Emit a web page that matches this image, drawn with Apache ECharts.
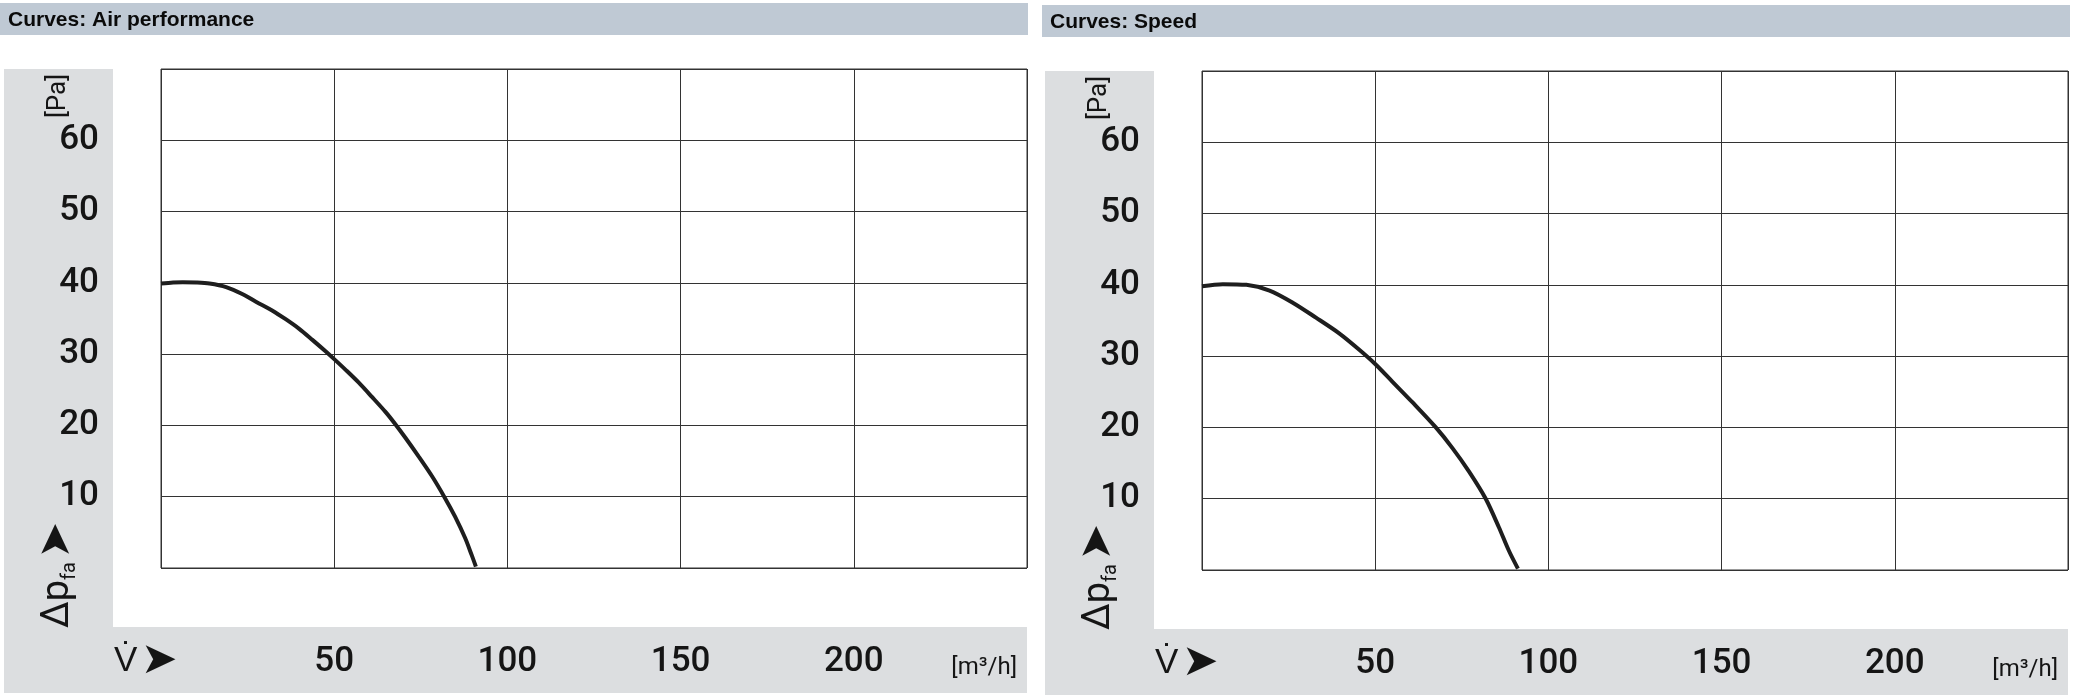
<!DOCTYPE html>
<html><head><meta charset="utf-8">
<script src="https://cdn.jsdelivr.net/npm/echarts@6/dist/echarts.min.js"></script>
<style>html,body{margin:0;padding:0;background:#fff}#c{width:2074px;height:696px}</style>
</head><body><div id="c"></div>
<script>
// ---- data ----
const chartTitles = ['Curves: Air performance', 'Curves: Speed'];
const xTickLabels = [50, 100, 150, 200];
const yTickLabels = [10, 20, 30, 40, 50, 60];
const xUnit = '[m\u00b3/h]';
const yUnit = '[Pa]';
const xName = 'V\u0307';
const yName = '\u0394p';
const ySub = 'fa';
const airFlow     = [0, 3.5, 6.3, 10.2, 14.0, 18.8, 23.6, 27.4, 32.2, 36.0, 39.9, 43.7, 47.5, 50, 53.3, 57.1, 60.9, 64.8, 67.6, 70.5, 74.3, 78.2, 82.0, 84.9, 87.8, 89.7, 90.9];
const airPressure = [39.9, 40.05, 40.1, 40.05, 39.9, 39.4, 38.4, 37.35, 36.1, 34.9, 33.55, 32.0, 30.4, 29.3, 27.8, 26.0, 24.0, 21.9, 20.2, 18.3, 15.7, 12.9, 9.8, 7.2, 4.2, 1.8, 0.2];
const speedFlow     = [0, 6.0, 12.8, 19.5, 26.2, 32.9, 39.6, 45.4, 50, 55.0, 60.8, 67.5, 72.3, 77.1, 81.9, 85.7, 88.6, 91.2];
const speedPressure = [39.8, 40.1, 40.0, 39.2, 37.5, 35.4, 33.2, 30.9, 28.9, 26.4, 23.5, 20.0, 17.1, 13.8, 10.0, 6.0, 2.7, 0.2];

// ---- layout ----
const FONT = 'Roboto, "Liberation Sans", Arial, sans-serif';
const panels = [
  {gl: 161, gt: 69, hx: 0, hy: 3, hw: 1028, tx: 8, flow: airFlow, pres: airPressure, title: chartTitles[0]},
  {gl: 1202, gt: 71, hx: 1042, hy: 5, hw: 1028, tx: 1050, flow: speedFlow, pres: speedPressure, title: chartTitles[1]}
];
const GW = 866, GH = 499;
const INK = '#151515';

const grids = [], xAxes = [], yAxes = [], series = [], graphics = [];
panels.forEach((p, i) => {
  grids.push({left: p.gl, top: p.gt, width: GW, height: GH, show: true, backgroundColor: '#fff', borderColor: '#333', borderWidth: 1});
  xAxes.push({
    type: 'value', gridIndex: i, min: 0, max: 250, interval: 50,
    axisLine: {show: false}, axisTick: {show: false},
    splitLine: {show: true, lineStyle: {color: '#333', width: 1}},
    axisLabel: {margin: 94, verticalAlign: 'middle', fontSize: 35, fontWeight: 500, color: INK, fontFamily: FONT,
      formatter: v => xTickLabels.includes(v) ? String(v) : ''}
  });
  yAxes.push({
    type: 'value', gridIndex: i, min: 0, max: 70, interval: 10,
    axisLine: {show: false}, axisTick: {show: false},
    splitLine: {show: true, lineStyle: {color: '#333', width: 1}},
    axisLabel: {margin: 62, fontSize: 35, fontWeight: 500, color: INK, fontFamily: FONT,
      formatter: v => yTickLabels.includes(v) ? String(v) : ''}
  });
  series.push({
    type: 'line', xAxisIndex: i, yAxisIndex: i, showSymbol: false, smooth: 0.3,
    lineStyle: {color: '#1e1e1e', width: 4},
    data: p.flow.map((x, k) => [x, p.pres[k]])
  });
  // header bar
  graphics.push({type: 'rect', z: -10, shape: {x: p.hx, y: p.hy, width: p.hw, height: 32}, style: {fill: '#bfc9d4'}});
  graphics.push({type: 'text', x: p.tx, y: p.hy + 17, style: {text: p.title, font: 'bold 21px "Liberation Sans", sans-serif', fill: '#0a0a0a', verticalAlign: 'middle'}});
  // grey L panel
  graphics.push({type: 'rect', z: -10, shape: {x: p.gl - 157, y: p.gt, width: 109, height: 558}, style: {fill: '#dcdee0'}});
  graphics.push({type: 'rect', z: -10, shape: {x: p.gl - 157, y: p.gt + 558, width: 1023, height: 66}, style: {fill: '#dcdee0'}});
  // y unit
  graphics.push({type: 'text', x: p.gl - 103, y: p.gt + 27, rotation: Math.PI / 2,
    style: {text: yUnit, font: '26px ' + FONT, fill: INK, align: 'center', verticalAlign: 'middle'}});
  // y name
  graphics.push({type: 'text', x: p.gl - 103, y: p.gt + 506, rotation: Math.PI / 2,
    style: {text: '{a|' + yName + '}{b|' + ySub + '} {c|\u27a4}', align: 'center', verticalAlign: 'middle',
      rich: {
        a: {fontSize: 38, fontWeight: 400, fontFamily: FONT, fill: INK, color: INK, lineHeight: 44},
        b: {fontSize: 20, fontFamily: FONT, fill: INK, color: INK, lineHeight: 24, verticalAlign: 'bottom'},
        c: {fontSize: 44, fontFamily: '"DejaVu Sans"', fill: INK, color: INK, lineHeight: 44}
      }}});
  // x name
  graphics.push({type: 'text', x: p.gl - 47, y: p.gt + 593,
    style: {text: '{a|' + xName + '} {c|\u27a4}', align: 'left', verticalAlign: 'middle',
      rich: {
        a: {fontSize: 35, fontWeight: 500, fontFamily: FONT, fill: INK, color: INK, lineHeight: 44},
        c: {fontSize: 44, fontFamily: '"DejaVu Sans"', fill: INK, color: INK, lineHeight: 44}
      }}});
  // x unit
  graphics.push({type: 'text', x: p.gl + 856, y: p.gt + 599,
    style: {text: xUnit, font: '24px ' + FONT, fill: INK, align: 'right', verticalAlign: 'middle'}});
});

const chart = echarts.init(document.getElementById('c'), null, {renderer: 'canvas'});
chart.setOption({
  animation: false,
  backgroundColor: '#fff',
  grid: grids, xAxis: xAxes, yAxis: yAxes, series: series,
  graphic: {elements: graphics}
});
</script></body></html>
